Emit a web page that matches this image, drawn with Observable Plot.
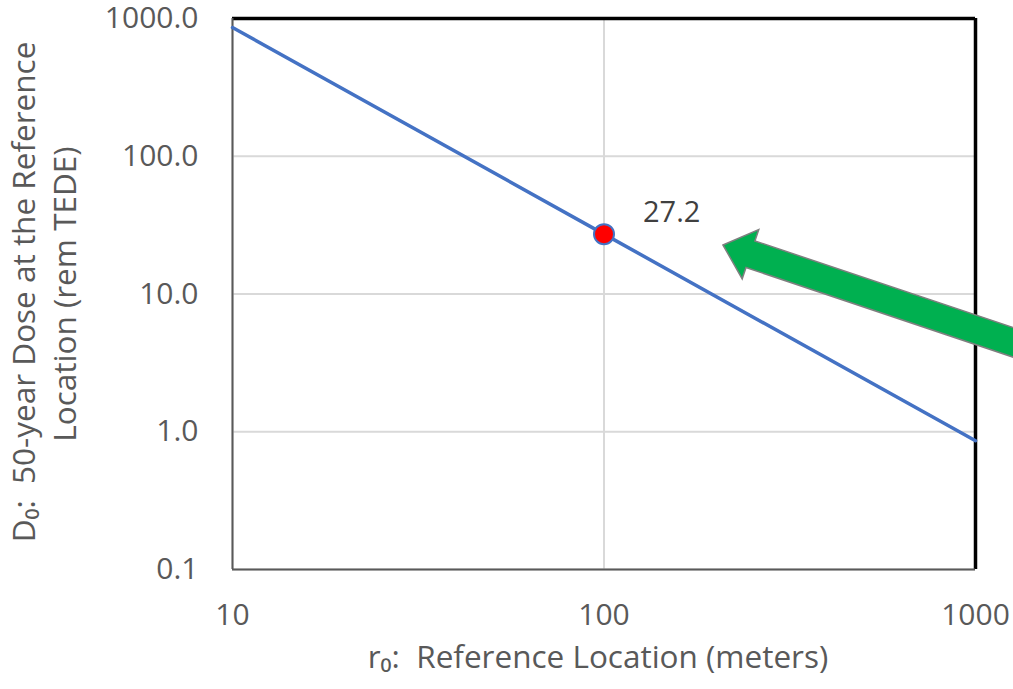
<!DOCTYPE html>
<html><head><meta charset="utf-8">
<script src="https://cdn.jsdelivr.net/npm/d3@7"></script>
<script src="https://cdn.jsdelivr.net/npm/@observablehq/plot@0.6"></script>
<style>body{margin:0;background:#fff} svg{overflow:visible}</style>
</head><body><div id="chart"></div>
<script>
// ---- data ----
const xTicks = [10, 100, 1000];
const yTicks = [0.1, 1, 10, 100, 1000];
const distance = [10, 100, 1000];          // r0 (meters)
const dose = [860, 27.2, 0.86];            // D0 (rem TEDE)
const markedDistance = [100];
const markedDose = [27.2];
const markedLabel = ["27.2"];
const arrowX = [209.7, 1406];              // arrow tip, tail (data space)
const arrowY = [22.5, 4.02];
const xTitle = "r\u2080:  Reference Location (meters)";
const yTitle1 = "D\u2080:  50-year Dose at the Reference";
const yTitle2 = "Location (rem TEDE)";

const lineData = distance.map((d, i) => ({x: d, y: dose[i]}));
const pointData = markedDistance.map((d, i) => ({x: d, y: markedDose[i], label: markedLabel[i]}));

function arrowMark(index, scales) {
  const x0 = scales.x(arrowX[0]), y0 = scales.y(arrowY[0]);
  const x1 = scales.x(arrowX[1]), y1 = scales.y(arrowY[1]);
  const len = Math.hypot(x1 - x0, y1 - y0);
  const ux = (x1 - x0) / len, uy = (y1 - y0) / len;
  const px = -uy, py = ux;
  const headLen = 29, headHalf = 26, shaftHalf = 14;
  const bx = x0 + ux * headLen, by = y0 + uy * headLen;
  const pts = [
    [x0, y0],
    [bx - px * headHalf, by - py * headHalf],
    [bx - px * shaftHalf, by - py * shaftHalf],
    [x1 - px * shaftHalf, y1 - py * shaftHalf],
    [x1 + px * shaftHalf, y1 + py * shaftHalf],
    [bx + px * shaftHalf, by + py * shaftHalf],
    [bx + px * headHalf, by + py * headHalf]
  ];
  const path = d3.create("svg:path")
    .attr("d", "M" + pts.map(p => p.join(",")).join("L") + "Z")
    .attr("fill", "#00B050")
    .attr("stroke", "#7F7F7F")
    .attr("stroke-width", 1.5)
    .attr("stroke-linejoin", "miter");
  return path.node();
}

const chart = Plot.plot({
  width: 1013,
  height: 689,
  marginLeft: 232,
  marginRight: 38,
  marginTop: 18,
  marginBottom: 120,
  x: {type: "log", domain: [10, 1000]},
  y: {type: "log", domain: [0.1, 1000]},
  style: {fontFamily: "'Open Sans', sans-serif", color: "#595959", background: "#fff", overflow: "visible"},
  marks: [
    Plot.gridX(xTicks, {stroke: "#d9d9d9", strokeOpacity: 1, strokeWidth: 2}),
    Plot.gridY(yTicks, {stroke: "#d9d9d9", strokeOpacity: 1, strokeWidth: 2}),
    Plot.ruleY([1000], {stroke: "black", strokeWidth: 3.5}),
    Plot.ruleX([1000], {stroke: "black", strokeWidth: 3.5}),
    Plot.ruleX([10], {stroke: "#595959", strokeWidth: 2}),
    Plot.ruleY([0.1], {stroke: "#595959", strokeWidth: 2}),
    Plot.axisY(yTicks, {tickFormat: d => d.toFixed(1), tickSize: 0, tickPadding: 34, fontSize: 30, label: null, fill: "#595959"}),
    Plot.axisX(xTicks, {tickFormat: d => String(d), tickSize: 0, tickPadding: 34, fontSize: 30, label: null, fill: "#595959"}),
    Plot.line(lineData, {x: "x", y: "y", stroke: "#4472C4", strokeWidth: 3.5}),
    Plot.dot(pointData, {x: "x", y: "y", r: 10, fill: "#FF0000", stroke: "#4472C4", strokeWidth: 2}),
    Plot.text(pointData, {x: "x", y: "y", text: "label", textAnchor: "start", dx: 39, dy: -21, fontSize: 29, fill: "#404040"}),
    Plot.text([xTitle], {text: d => d, frameAnchor: "bottom", dy: 98, dx: -6, fontSize: 31.5, fill: "#595959"}),
    Plot.text([yTitle1], {text: d => d, frameAnchor: "left", textAnchor: "middle", rotate: -90, dx: -208, dy: -2, fontSize: 31.5, fill: "#595959"}),
    Plot.text([yTitle2], {text: d => d, frameAnchor: "left", textAnchor: "middle", rotate: -90, dx: -167, dy: 0, fontSize: 31.5, fill: "#595959"}),
    arrowMark
  ]
});
document.getElementById("chart").appendChild(chart);
</script>
</body></html>
